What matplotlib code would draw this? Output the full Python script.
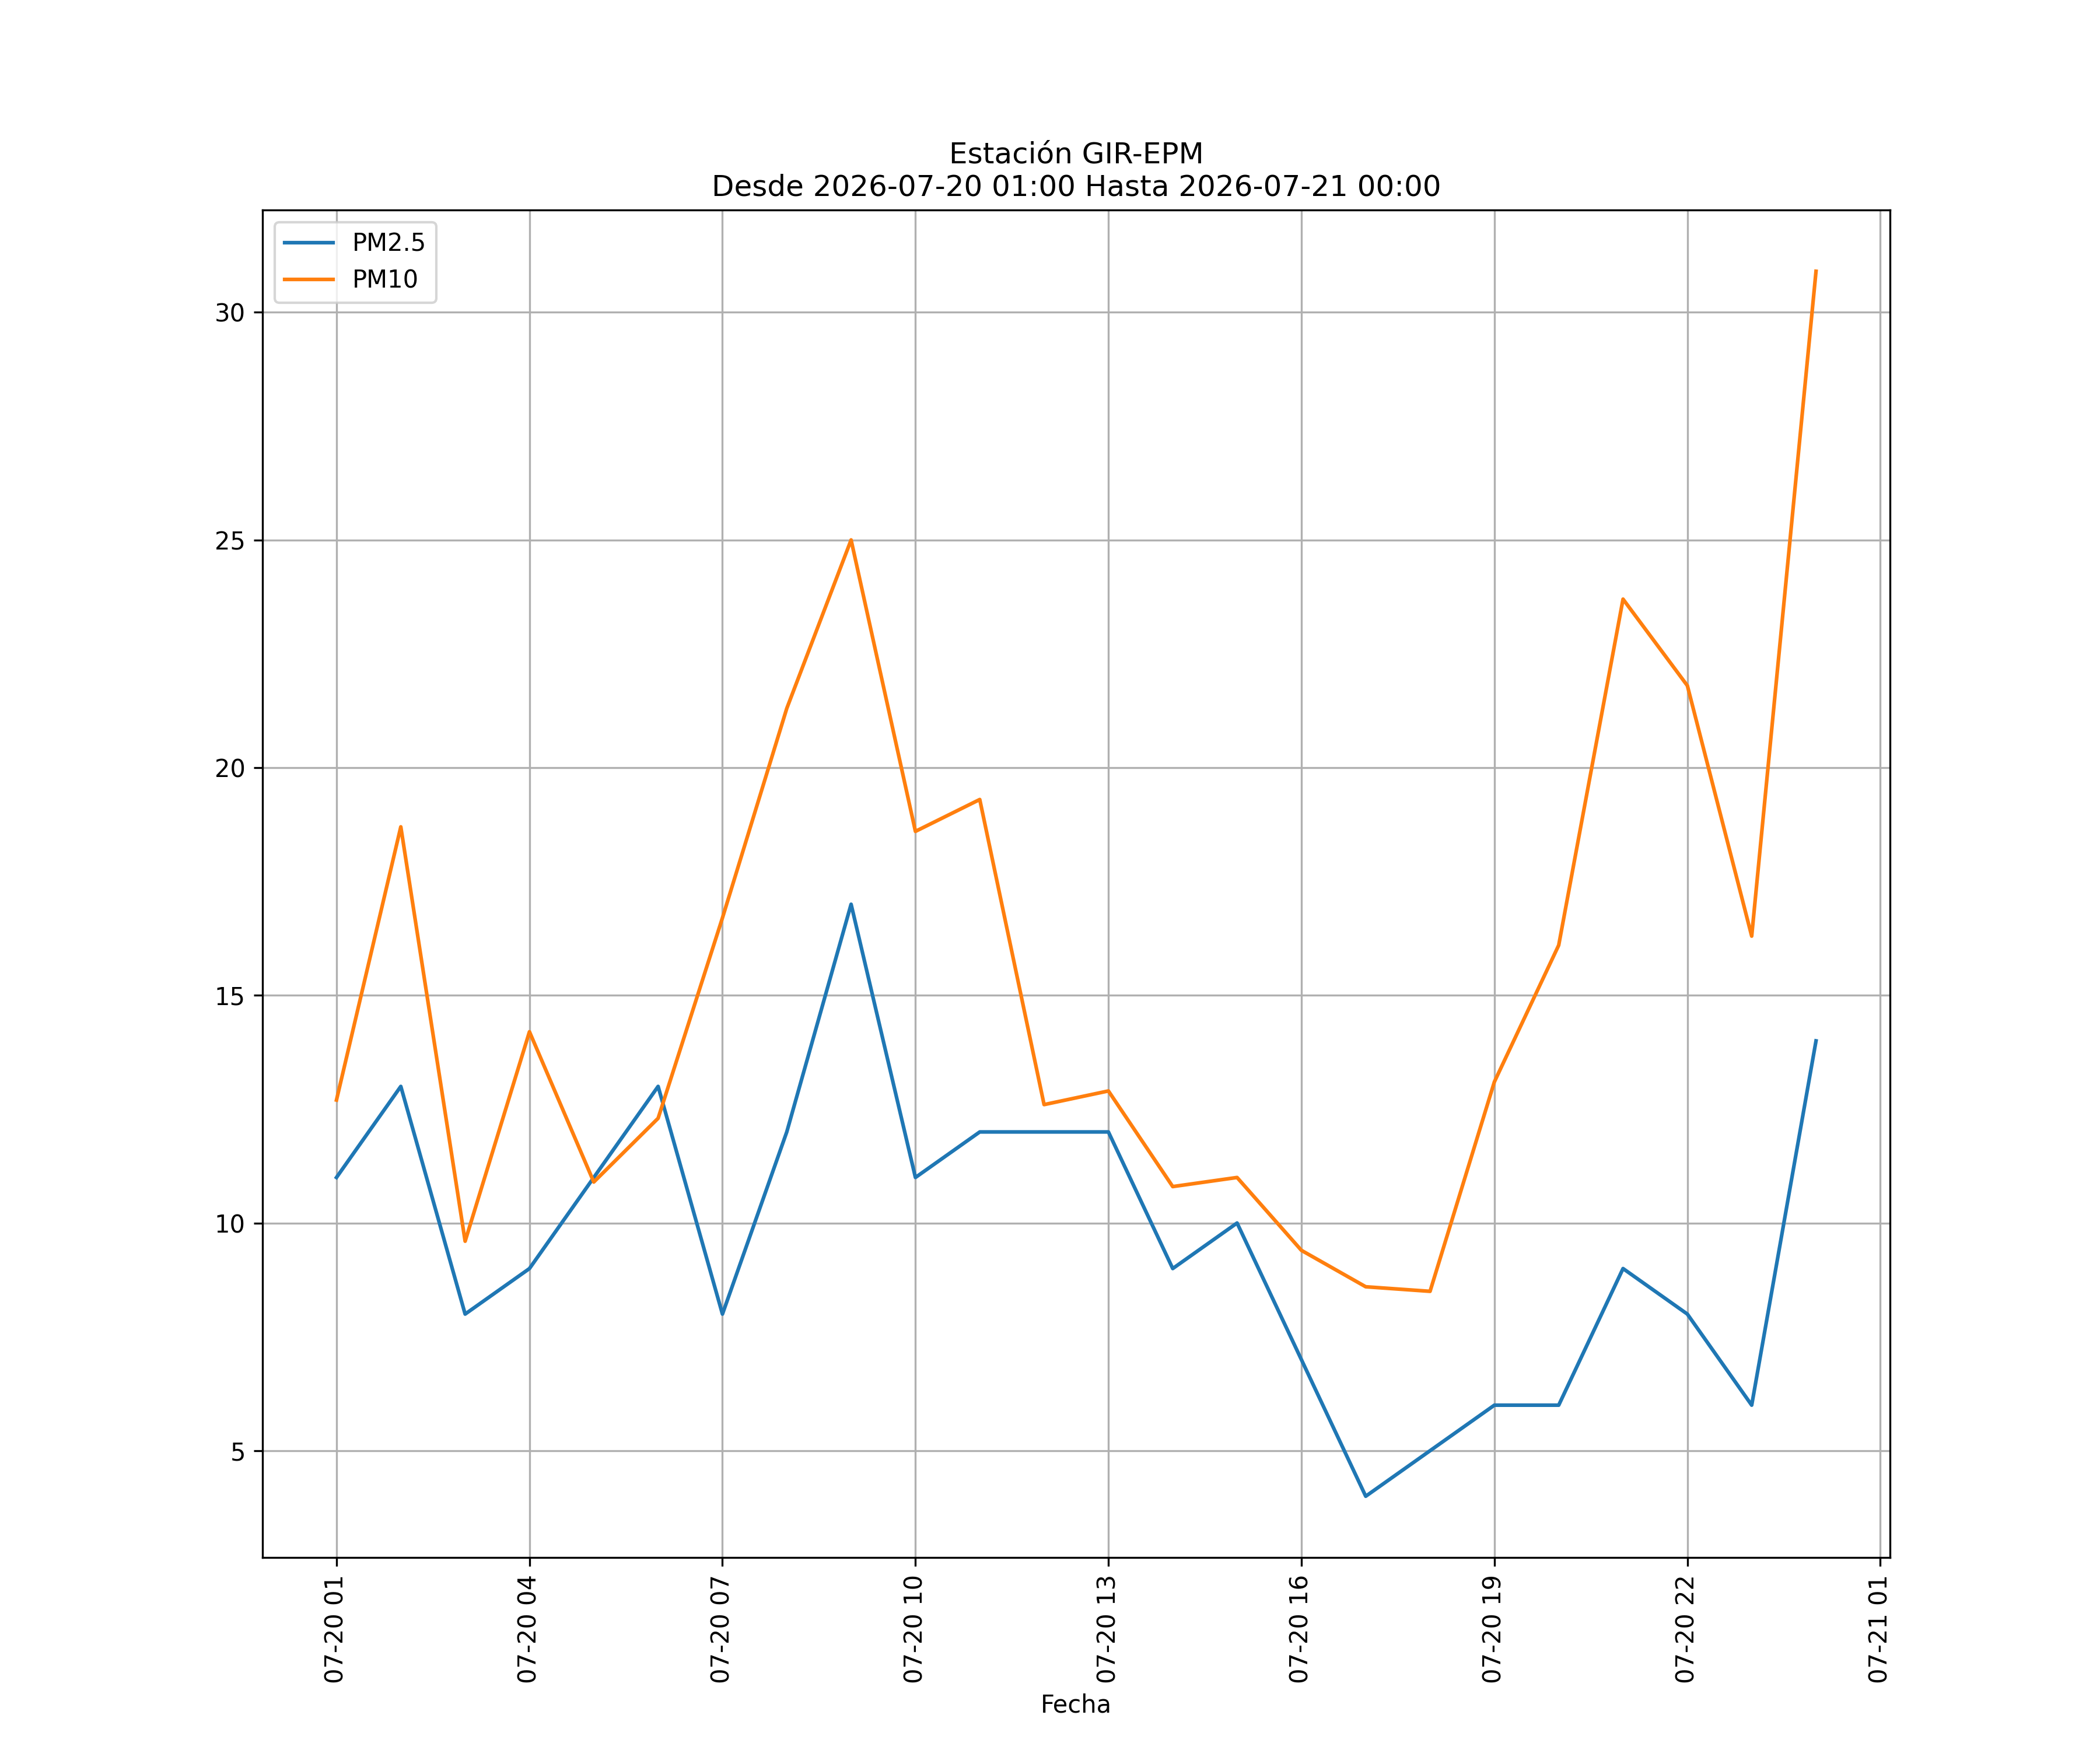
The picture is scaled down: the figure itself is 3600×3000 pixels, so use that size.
import matplotlib
matplotlib.use("Agg")
import matplotlib.pyplot as plt
import matplotlib.dates as mdates
import pandas as pd

# hourly data, station GIR-EPM
fechas = pd.date_range("2026-07-20 01:00", "2026-07-21 00:00", freq="h")
pm25 = [11, 13, 8, 9, 11, 13, 8, 12, 17, 11, 12, 12,
        12, 9, 10, 7, 4, 5, 6, 6, 9, 8, 6, 14]
pm10 = [12.7, 18.7, 9.6, 14.2, 10.9, 12.3, 16.7, 21.3, 25.0, 18.6, 19.3, 12.6,
        12.9, 10.8, 11.0, 9.4, 8.6, 8.5, 13.1, 16.1, 23.7, 21.8, 16.3, 30.9]

fig, ax = plt.subplots(figsize=(12, 10), dpi=300)
ax.plot(fechas, pm25, label="PM2.5")
ax.plot(fechas, pm10, label="PM10")

ax.xaxis.set_major_locator(mdates.HourLocator(byhour=range(1, 24, 3)))
ax.xaxis.set_major_formatter(mdates.DateFormatter("%m-%d %H"))
plt.xticks(rotation=90)

ax.set_xlabel("Fecha")
ax.set_title("Estación GIR-EPM\nDesde 2026-07-20 01:00 Hasta 2026-07-21 00:00")
ax.grid(True)
ax.legend(loc="upper left")

plt.savefig("out.png", dpi=300)
